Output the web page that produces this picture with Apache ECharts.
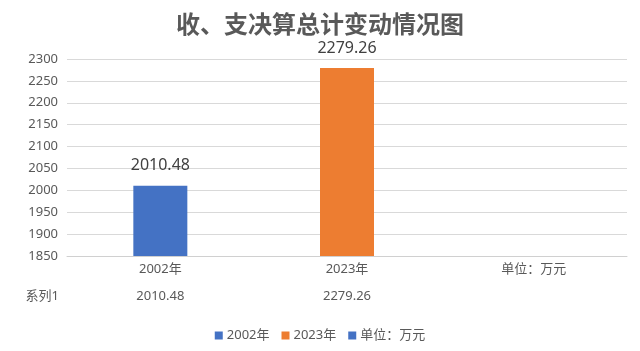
<!DOCTYPE html>
<html><head><meta charset="utf-8">
<script src="https://cdn.jsdelivr.net/npm/echarts@6/dist/echarts.min.js"></script>
<style>html,body{margin:0;padding:0;background:#fff}#c{width:640px;height:351px}</style>
</head><body><div id="c"></div>
<script>
const titleText = '收、支决算总计变动情况图';
const categories = ['2002年', '2023年', '单位：万元'];
const values = [2010.48, 2279.26, null];
const tableSeriesName = '系列1';
const colors = ['#4472C4', '#ED7D31', '#4472C4'];
const yMin = 1850, yMax = 2300, yStep = 50;

const FONT = '"Noto Sans", "Noto Sans CJK SC", sans-serif';
const txt = '#595959';

const series = categories.map((name, i) => ({
  name: name,
  type: 'bar',
  barWidth: 54,
  barGap: '-100%',
  itemStyle: { color: colors[i] },
  label: {
    show: true, position: 'top', distance: 12,
    fontSize: 16, color: '#404040', fontFamily: FONT,
    formatter: p => p.value.toFixed(2)
  },
  data: categories.map((c, j) => j === i && values[j] != null ? values[j] : '-')
}));

const chart = echarts.init(document.getElementById('c'), null, { renderer: 'canvas' });
chart.setOption({
  animation: false,
  color: colors,
  title: {
    text: titleText, left: 'center', top: 9,
    textStyle: { fontSize: 24, fontWeight: 'bold', color: txt, fontFamily: FONT }
  },
  legend: {
    bottom: 4, left: 'center', icon: 'rect', itemWidth: 8, itemHeight: 8, itemGap: 12,
    textStyle: { fontSize: 13, color: txt, fontFamily: FONT, padding: [0, 0, 0, -1] },
    data: categories
  },
  grid: { left: 67, right: 13, top: 59, bottom: 95 },
  xAxis: [{
    type: 'category', data: categories,
    axisLine: { lineStyle: { color: '#D0D0D0' } },
    axisTick: { show: false },
    axisLabel: { fontSize: 13, color: txt, fontFamily: FONT, margin: 7 }
  }, {
    type: 'category', data: categories, position: 'bottom', offset: 40,
    axisLine: { show: false }, axisTick: { show: false },
    name: tableSeriesName, nameLocation: 'start', nameGap: 8,
    nameTextStyle: { fontSize: 13, color: txt, fontFamily: FONT, verticalAlign: 'middle', align: 'right' },
    axisLabel: {
      fontSize: 13, color: txt, fontFamily: FONT, margin: 0, verticalAlign: 'middle',
      formatter: (v, i) => values[i] != null ? values[i].toFixed(2) : ''
    }
  }],
  yAxis: {
    type: 'value', min: yMin, max: yMax, interval: yStep,
    axisLine: { show: false }, axisTick: { show: false },
    axisLabel: { fontSize: 13, color: txt, fontFamily: FONT, margin: 9, formatter: v => String(v) },
    splitLine: { lineStyle: { color: '#D9D9D9' } }
  },
  series: series
});
</script></body></html>
